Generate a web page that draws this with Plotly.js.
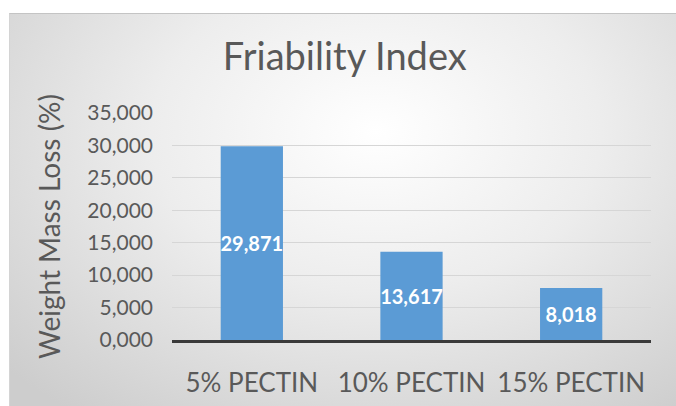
<!DOCTYPE html>
<html>
<head>
<meta charset="utf-8">
<script src="https://cdn.plot.ly/plotly-3.0.1.min.js"></script>
<style>
  html, body { margin: 0; padding: 0; background: #ffffff; }
  #wrap { position: relative; width: 676px; height: 406px; overflow: hidden; }
  #bg { position: absolute; left: 9px; top: 13px; width: 667px; height: 393px;
        background: radial-gradient(ellipse 75% 90% at 55% 30%, #ffffff 0%, #ededed 45%, #cdcdcd 100%);
        border-top: 1px solid #c4c4c4; border-left: 1px solid #d4d4d4; box-sizing: border-box; }
  #chart { position: absolute; left: 0; top: 0; width: 676px; height: 406px; }
</style>
</head>
<body>
<div id="wrap">
  <div id="bg"></div>
  <div id="chart"></div>
</div>
<script>
const categories = ["5% PECTIN", "10% PECTIN", "15% PECTIN"];
const values = [29.871, 13.617, 8.018];
const yTickValues = [0, 5, 10, 15, 20, 25, 30, 35];

const FONT = "Lato, 'Open Sans', sans-serif";

const trace = {
  type: "bar",
  x: categories,
  y: values,
  marker: { color: "#5b9bd5" },
  texttemplate: "%{y:.3f}",
  textposition: "inside",
  insidetextanchor: "middle",
  constraintext: "none",
  cliponaxis: false,
  textangle: 0,
  textfont: { family: FONT, size: 20, color: "#ffffff", weight: "bold" },
  hoverinfo: "none"
};

const layout = {
  width: 676,
  height: 406,
  separators: ",.",
  paper_bgcolor: "rgba(0,0,0,0)",
  plot_bgcolor: "rgba(0,0,0,0)",
  margin: { l: 171.5, r: 24.5, t: 113, b: 66 },
  bargap: 0.61,
  showlegend: false,
  uniformtext: { mode: false },
  font: { family: FONT, color: "#595959" },
  title: {
    text: "Friability Index",
    font: { family: FONT, size: 38, color: "#595959" },
    x: 0.51, xanchor: "center",
    y: 0.86, yanchor: "middle"
  },
  xaxis: {
    type: "category",
    showgrid: false,
    showline: true,
    linecolor: "#3a3a3a",
    linewidth: 3,
    ticks: "",
    ticklabelstandoff: 18,
    tickfont: { family: FONT, size: 26, color: "#595959" }
  },
  yaxis: {
    range: [0, 35],
    tickvals: yTickValues,
    tickformat: ".3f",
    showgrid: true,
    gridcolor: "#d6d6d6",
    gridwidth: 1,
    zeroline: false,
    showline: false,
    ticks: "",
    ticklabelstandoff: 18,
    tickfont: { family: FONT, size: 21, color: "#595959" },
    title: {
      text: "Weight Mass Loss (%)",
      font: { family: FONT, size: 28, color: "#595959" },
      standoff: 18
    }
  }
};

Plotly.newPlot("chart", [trace], layout, { displayModeBar: false, staticPlot: true });
</script>
</body>
</html>
